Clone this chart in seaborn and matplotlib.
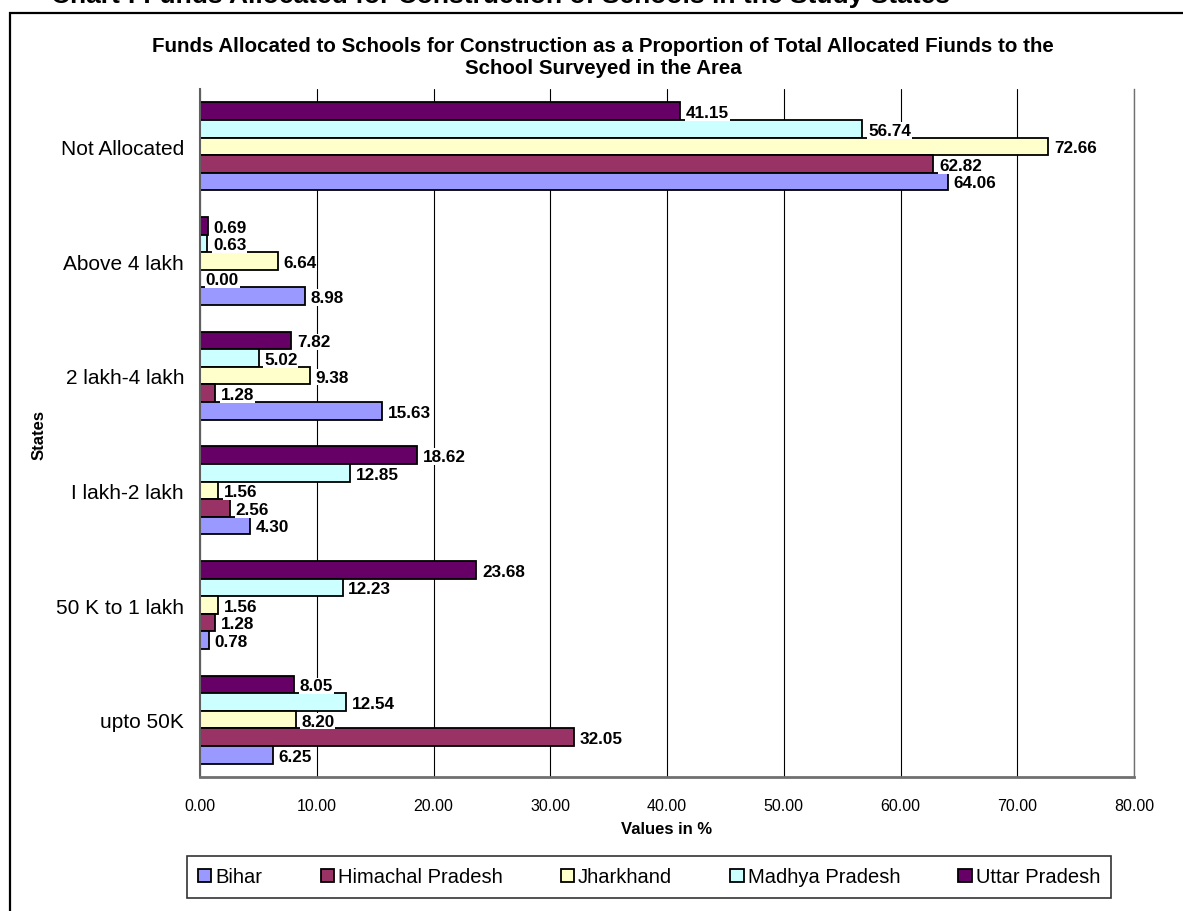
import matplotlib
matplotlib.use("Agg")
import matplotlib.pyplot as plt
from matplotlib.patches import Patch, Rectangle
import seaborn as sns
import pandas as pd
import numpy as np

# Fund ranges (top to bottom) and the share of schools in each state, in %
categories = ["Not Allocated", "Above 4 lakh", "2 lakh-4 lakh", "I lakh-2 lakh",
              "50 K to 1 lakh", "upto 50K"]
states = ["Bihar", "Himachal Pradesh", "Jharkhand", "Madhya Pradesh", "Uttar Pradesh"]

bihar = [64.06, 8.98, 15.63, 4.30, 0.78, 6.25]
himachal = [62.82, 0.00, 1.28, 2.56, 1.28, 32.05]
jharkhand = [72.66, 6.64, 9.38, 1.56, 1.56, 8.20]
madhya = [56.74, 0.63, 5.02, 12.85, 12.23, 12.54]
uttar = [41.15, 0.69, 7.82, 18.62, 23.68, 8.05]

xticks = [0, 10, 20, 30, 40, 50, 60, 70, 80]

colors = {
    "Bihar": "#9999FF",
    "Himachal Pradesh": "#993366",
    "Jharkhand": "#FFFFCC",
    "Madhya Pradesh": "#CCFFFF",
    "Uttar Pradesh": "#660066",
}

series = {"Bihar": bihar, "Himachal Pradesh": himachal, "Jharkhand": jharkhand,
          "Madhya Pradesh": madhya, "Uttar Pradesh": uttar}
df = pd.DataFrame([
    {"Range": c, "State": s, "Value": v}
    for s, vals in series.items() for c, v in zip(categories, vals)
])

sns.set_style("white")
plt.rcParams["font.family"] = ["Liberation Sans", "DejaVu Sans"]
for key in ["text.color", "axes.labelcolor", "xtick.color", "ytick.color"]:
    plt.rcParams[key] = "black"

W, H = 1183, 912
fig = plt.figure(figsize=(W / 100, H / 100), dpi=100)
ax = fig.add_axes([200 / W, 1 - 778 / H, (1134 - 200) / W, (778 - 90) / H])

# Stack order inside each group: Uttar Pradesh on top, Bihar at the bottom
hue_order = states[::-1]
sns.barplot(data=df, y="Range", x="Value", hue="State", order=categories,
            hue_order=hue_order, palette=colors, orient="h", width=0.765,
            edgecolor="black", linewidth=1.3, saturation=1, ax=ax, legend=False,
            errorbar=None)

# Value labels at the end of each bar
for cont, st in zip(ax.containers, hue_order):
    for bar, v in zip(cont, series[st]):
        y = bar.get_y() + bar.get_height() / 2
        ax.annotate(f"{v:.2f}", xy=(v, y), xytext=(4, -1), textcoords="offset points",
                    ha="left", va="center", fontsize=12.3, fontweight="bold",
                    bbox=dict(boxstyle="square,pad=0.05", fc="white", ec="none"),
                    zorder=5)

ax.set_xlim(0, 80)
ax.set_ylim(len(categories) - 0.5, -0.5)
ax.set_xticks(xticks)
ax.set_xticklabels([f"{t:.2f}" for t in xticks], fontsize=11.5)
ax.set_yticks(range(len(categories)))
ax.set_yticklabels(categories, fontsize=15)
ax.set_yticks(np.arange(-0.5, len(categories)), minor=True)
ax.tick_params(axis="y", which="major", length=0, pad=11.5)
ax.tick_params(axis="y", which="minor", length=7, width=1, color="#404040", direction="out")
ax.tick_params(axis="x", which="major", length=6, width=1, color="#404040",
               direction="out", pad=9)

ax.xaxis.grid(True, color="#000000", linewidth=0.8)
ax.set_axisbelow(True)
ax.spines["top"].set_visible(False)
ax.spines["right"].set_color("#707070")
ax.spines["right"].set_linewidth(1)
ax.spines["left"].set_color("#606060")
ax.spines["left"].set_linewidth(1.5)
ax.spines["bottom"].set_color("#707070")
ax.spines["bottom"].set_linewidth(2)

ax.set_xlabel("Values in %", fontsize=12, fontweight="bold", labelpad=6)
ax.set_ylabel("")
fig.text(39 / W, 1 - 435 / H, "States", rotation=90, ha="center", va="center",
         fontsize=12, fontweight="bold")

fig.text(603 / W, 1 - 57 / H,
         "Funds Allocated to Schools for Construction as a Proportion of Total Allocated Fiunds to the\nSchool Surveyed in the Area",
         ha="center", va="center", fontsize=14.8, fontweight="bold", linespacing=1.2)

# Caption above the chart frame, running off the top of the page
fig.text(950 / W, 1 + 4 / H,
         "Chart : Funds Allocated for Construction of Schools in the Study States",
         ha="right", va="center", fontsize=19, fontweight="bold")

# Outer chart frame
fig.patches.append(Rectangle((10 / W, -0.05), 1.2, 1.05 - 14 / H, transform=fig.transFigure,
                             fill=False, ec="black", lw=1.6, zorder=0))

handles = [Patch(facecolor=colors[s], edgecolor="black", linewidth=1.3, label=s)
           for s in states]
leg = fig.legend(handles=handles, loc="center", ncol=5,
                 bbox_to_anchor=(649 / W, 1 - 878 / H), frameon=True, fancybox=False,
                 fontsize=14.5, handlelength=0.65, handleheight=0.65, handletextpad=0.2,
                 columnspacing=2.9, borderpad=0.55, borderaxespad=0, edgecolor="black")
leg.get_frame().set_linewidth(1.2)

fig.savefig("out.png", dpi=100, facecolor="white")
